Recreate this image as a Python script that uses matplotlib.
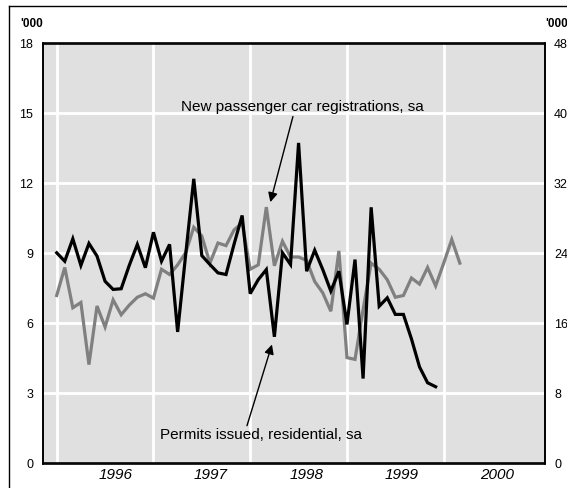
import matplotlib
matplotlib.use("Agg")
import matplotlib.pyplot as plt
from matplotlib.lines import Line2D

plt.rcParams['font.family'] = ['Liberation Sans', 'DejaVu Sans']

# ---- data (monthly, first point = start of 1996) ----
years = ['1996', '1997', '1998', '1999', '2000']

permits = [9.03, 8.67, 9.63, 8.49, 9.43, 8.89, 7.81, 7.46, 7.49, 8.49, 9.39, 8.39,
           9.91, 8.67, 9.39, 5.64, 8.96, 12.2, 8.91, 8.53, 8.17, 8.10, 9.40, 10.63,
           7.28, 7.88, 8.31, 5.43, 9.03, 8.53, 13.74, 8.24, 9.14, 8.31, 7.39, 8.24,
           5.96, 8.74, 3.64, 10.98, 6.74, 7.10, 6.39, 6.39, 5.34, 4.14, 3.46, 3.29]

cars = [19.2, 22.4, 17.8, 18.4, 11.3, 18.0, 15.6, 18.7, 17.0, 18.1, 19.0, 19.4,
        18.9, 22.2, 21.6, 22.7, 24.1, 27.0, 26.0, 22.9, 25.2, 24.9, 26.7, 27.5,
        22.2, 22.7, 29.3, 22.6, 25.4, 23.6, 23.6, 23.2, 20.8, 19.5, 17.4, 24.3,
        12.1, 11.9, 17.6, 22.9, 22.2, 21.0, 19.0, 19.2, 21.2, 20.5, 22.4, 20.3,
        22.9, 25.6, 22.9]

left_ticks = [0, 3, 6, 9, 12, 15, 18]
right_ticks = [0, 8, 16, 24, 32, 40, 48]

# ---- figure ----
W, H = 567, 488
fig = plt.figure(figsize=(W / 100, H / 100), dpi=100)
fig.patch.set_facecolor('white')

l, r, b, t = 42.5, 545.3, 463.5, 43.5
rect = [l / W, 1 - b / H, (r - l) / W, (b - t) / H]
ax = fig.add_axes(rect)
ax2 = ax.twinx()
ax.set_zorder(2)
ax2.set_zorder(1)
ax.patch.set_visible(False)
ax2.patch.set_visible(True)
ax2.patch.set_facecolor('#e0e0e0')

xs_p = list(range(len(permits)))
xs_c = list(range(len(cars)))

ax.set_xlim(-1.76, 60.6)
ax.set_ylim(0, 18)
ax2.set_ylim(0, 48)

# grid (on the lower axes)
for v in right_ticks[1:-1]:
    ax2.axhline(v, color='white', lw=2.0, zorder=0.5)
for k in range(len(years)):
    ax2.axvline(12 * k, color='white', lw=2.0, zorder=0.5)

ax2.plot(xs_c, cars, color='#808080', lw=2.3, solid_joinstyle='miter', zorder=2)
ax.plot(xs_p, permits, color='black', lw=2.3, solid_joinstyle='miter', zorder=3)

# ticks
ax.set_yticks(left_ticks)
ax.set_yticklabels([str(v) for v in left_ticks], fontsize=9)
ax2.set_yticks(right_ticks)
ax2.set_yticklabels([str(v) for v in right_ticks], fontsize=9)
ax.tick_params(axis='y', length=0, pad=6.8)
ax2.tick_params(axis='y', length=0, pad=6.3)

label_pos = [7.3 + 11.82 * k for k in range(len(years))]
ax.set_xticks(label_pos)
ax.set_xticklabels(years, fontsize=11, style='italic')
ax.tick_params(axis='x', length=0, pad=3)
ax2.tick_params(axis='x', length=0)

for a in (ax, ax2):
    for s in a.spines.values():
        s.set_linewidth(1.2)
        s.set_color('black')

# units
fig.text(20 / W, 1 - 24 / H, "'000", fontsize=8.5, fontweight='bold', ha='left', va='center')
fig.text(545 / W, 1 - 24 / H, "'000", fontsize=8.5, fontweight='bold', ha='left', va='center')

# annotations
arrow = dict(arrowstyle='-|>', color='black', lw=1.0, mutation_scale=14,
             shrinkA=0, shrinkB=0)
ax.text(30.5, 15.3, 'New passenger car registrations, sa', fontsize=11,
        ha='center', va='center')
ax.annotate('', xy=(26.5, 11.2), xytext=(29.3, 14.87), arrowprops=arrow)
ax.text(25.4, 1.24, 'Permits issued, residential, sa', fontsize=11,
        ha='center', va='center')
ax.annotate('', xy=(26.7, 5.1), xytext=(23.6, 1.62), arrowprops=arrow)

# outer frame (left and top edges)
fig.add_artist(Line2D([9 / W, 9 / W], [0, 1 - 6 / H], color='black', lw=1.0,
                      transform=fig.transFigure))
fig.add_artist(Line2D([9 / W, 1], [1 - 6 / H, 1 - 6 / H], color='black', lw=1.0,
                      transform=fig.transFigure))

fig.savefig('out.png', dpi=100)
